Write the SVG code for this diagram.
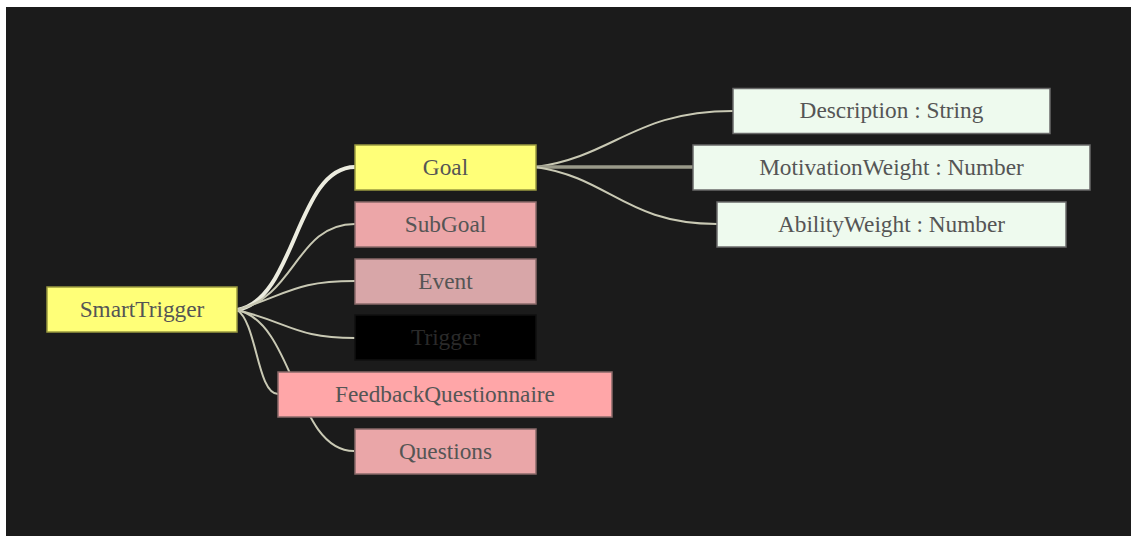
<svg xmlns="http://www.w3.org/2000/svg" width="1131" height="536" viewBox="0 0 1131 536">
<style>
.n rect{stroke-width:1.5}
.n text{font-family:"Liberation Serif","Times New Roman",serif;font-size:23.3px;fill:#555;text-anchor:middle}
.y rect{fill:#ffff78;stroke:#9a9a40}
.p rect{stroke:#8a6a6a}
.a rect{fill:#eefaee;stroke:#6a6a6a}
.l{fill:none;stroke:#c9c9b4;stroke-width:2}
</style>
<rect x="0" y="0" width="1131" height="536" fill="#ffffff"/>
<rect x="6" y="7" width="1125" height="529" fill="#1b1b1b"/>
<g id="connectors">
<path class="l" d="M237 310 C296 300 296 167 355 167" style="stroke:#ececdf;stroke-width:4"/>
<path class="l" d="M237 310 C296 297 296 224 355 224"/>
<path class="l" d="M237 310 C290 293 296 281 355 281"/>
<path class="l" d="M237 310 C290 323 296 338 355 338"/>
<path class="l" d="M237 310 C295 322 295 451 354 451"/>
<path class="l" d="M237 310 C257 322 257 394 278 394"/>
<path class="l" d="M536 167 C615 156 634 111 733 111"/>
<path class="l" d="M536 167 L693 167" style="stroke:#9a9a8a;stroke-width:3.5"/>
<path class="l" d="M536 167 C610 178 626 224 717 224"/>
</g>
<g id="SmartTrigger" class="n y"><rect x="47" y="287" width="190" height="45"/><text x="142" y="317">SmartTrigger</text></g>
<g id="Goal" class="n y"><rect x="355" y="145" width="181" height="45"/><text x="445.5" y="175">Goal</text></g>
<g id="SubGoal" class="n p"><rect x="355" y="202" width="181" height="45" fill="#eca6a8"/><text x="445.5" y="232">SubGoal</text></g>
<g id="Event" class="n p"><rect x="355" y="259" width="181" height="45" fill="#d8a6a8"/><text x="445.5" y="289">Event</text></g>
<g id="Trigger" class="n"><rect x="355" y="315" width="181" height="45" fill="#000" stroke="#111"/><text x="445.5" y="345" style="fill:#2a2a2a">Trigger</text></g>
<g id="FeedbackQuestionnaire" class="n p"><rect x="278" y="372" width="334" height="45" fill="#ffa6a8"/><text x="445" y="402">FeedbackQuestionnaire</text></g>
<g id="Questions" class="n p"><rect x="355" y="429" width="181" height="45" fill="#eaa6a8"/><text x="445.5" y="459">Questions</text></g>
<g id="Description" class="n a"><rect x="733" y="88.5" width="317" height="45"/><text x="891.5" y="118">Description : String</text></g>
<g id="MotivationWeight" class="n a"><rect x="693" y="145" width="397" height="45"/><text x="891.5" y="175">MotivationWeight : Number</text></g>
<g id="AbilityWeight" class="n a"><rect x="717" y="202" width="349" height="45"/><text x="891.5" y="232">AbilityWeight : Number</text></g>
</svg>
